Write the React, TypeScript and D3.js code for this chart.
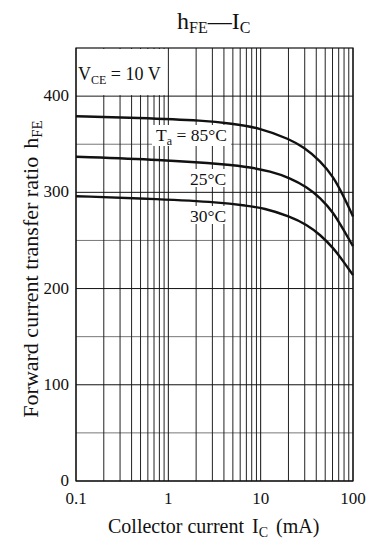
import React from "react";
import * as d3 from "d3";

const xTicks = [0.1, 1, 10, 100];
const xTickLabels = ["0.1", "1", "10", "100"];
const yTicks = [0, 100, 200, 300, 400];
const yMinorTicks = [50, 150, 250, 350];

const ic85 = [0.1, 0.455, 2.61, 4.67, 9.9, 20.8, 29.1, 44.1, 61.5, 78.9, 100];
const h85 = [379, 377.5, 374.5, 371.5, 367, 355, 347, 333, 316, 296, 275];

const ic25 = [0.1, 0.813, 4.67, 7.69, 12.6, 20.8, 31.6, 44.1, 61.5, 78.9, 100];
const h25 = [337, 334, 328.8, 326, 322, 315, 305.6, 294.5, 279, 261, 244];

const ic30 = [0.1, 0.813, 3.64, 7.08, 10.7, 20.8, 31.6, 44.1, 61.5, 78.9, 100];
const h30 = [296, 293, 289.6, 286, 283.8, 275, 266.4, 256, 242, 228, 214];

const series = [
  { name: "85", ic: ic85, h: h85 },
  { name: "25", ic: ic25, h: h25 },
  { name: "30", ic: ic30, h: h30 },
];

const W = 372;
const H = 550;
const L = 76, R = 353, T = 48, B = 481;
const FONT = "'Liberation Serif', 'Times New Roman', serif";

export default function App() {
  const x = d3.scaleLog().domain([0.1, 100]).range([L, R]);
  const y = d3.scaleLinear().domain([0, 450]).range([B, T]);

  const minorX: number[] = [];
  for (const dec of [0.1, 1, 10]) {
    for (let k = 2; k <= 9; k++) minorX.push(dec * k);
  }
  const line = d3
    .line<[number, number]>()
    .x((d) => x(d[0]))
    .y((d) => y(d[1]))
    .curve(d3.curveBasis);

  return (
    <svg
      width={W}
      height={H}
      style={{ position: "absolute", left: 0, top: 0, background: "#fff" }}
      fontFamily={FONT}
    >
      <rect x={0} y={0} width={W} height={H} fill="#fff" />
      {yMinorTicks.map((v) => (
        <line key={"hm" + v} x1={L} x2={R} y1={y(v)} y2={y(v)} stroke="#777" strokeWidth={1} />
      ))}
      {minorX.map((v) => (
        <line key={"vm" + v} x1={x(v)} x2={x(v)} y1={T} y2={B} stroke="#222" strokeWidth={1} />
      ))}
      {xTicks.map((v) => (
        <line key={"vM" + v} x1={x(v)} x2={x(v)} y1={T} y2={B} stroke="#111" strokeWidth={1} />
      ))}
      {yTicks.map((v) => (
        <line key={"hM" + v} x1={L} x2={R} y1={y(v)} y2={y(v)} stroke="#111" strokeWidth={1} />
      ))}
      <rect x={L} y={T} width={R - L} height={B - T} fill="none" stroke="#111" strokeWidth={1.2} />

      <rect x={L + 1} y={T + 1} width={x(1) - L - 2} height={y(400) - T - 2} fill="#fff" />
      <text x={78} y={80} fontSize={18} fill="#111">
        V<tspan fontSize={12} dy={4}>CE</tspan>
        <tspan dy={-4}> = 10 V</tspan>
      </text>

      {series.map((s) => (
        <path
          key={s.name}
          d={line(s.ic.map((c, i) => [c, s.h[i]] as [number, number])) || ""}
          fill="none"
          stroke="#111"
          strokeWidth={2.4}
        />
      ))}

      <rect x={152} y={125} width={79} height={21} fill="#fff" />
      <text x={156} y={141} fontSize={17.5} fill="#111">
        T<tspan fontSize={12} dy={4}>a</tspan>
        <tspan dy={-4}> = 85°C</tspan>
      </text>
      <rect x={188} y={169} width={40} height={18} fill="#fff" />
      <text x={190} y={185} fontSize={17.5} fill="#111">25°C</text>
      <rect x={188} y={206} width={40} height={18} fill="#fff" />
      <text x={190} y={222} fontSize={17.5} fill="#111">30°C</text>

      {yTicks.map((v) => (
        <text key={"yl" + v} x={69} y={y(v) + 5} fontSize={17} textAnchor="end" fill="#111">
          {v}
        </text>
      ))}
      {xTicks.map((v, i) => (
        <text key={"xl" + v} x={x(v)} y={504} fontSize={17} textAnchor="middle" fill="#111">
          {xTickLabels[i]}
        </text>
      ))}

      <text x={177} y={29} fontSize={24} fill="#111">
        h<tspan fontSize={16} dy={4}>FE</tspan>
        <tspan dy={-4}>—I</tspan>
        <tspan fontSize={16} dy={4}>C</tspan>
      </text>

      <text x={108} y={533} fontSize={20} fill="#111">
        Collector current
        <tspan dx={8}>I</tspan>
        <tspan fontSize={14} dy={4}>C</tspan>
        <tspan dy={-4} dx={8}>(mA)</tspan>
      </text>

      <text
        transform={`translate(38, 269) rotate(-90)`}
        fontSize={22}
        textAnchor="middle"
        fill="#111"
      >
        Forward current transfer ratio
        <tspan dx={8}>h</tspan>
        <tspan fontSize={15} dy={4}>FE</tspan>
      </text>
    </svg>
  );
}
